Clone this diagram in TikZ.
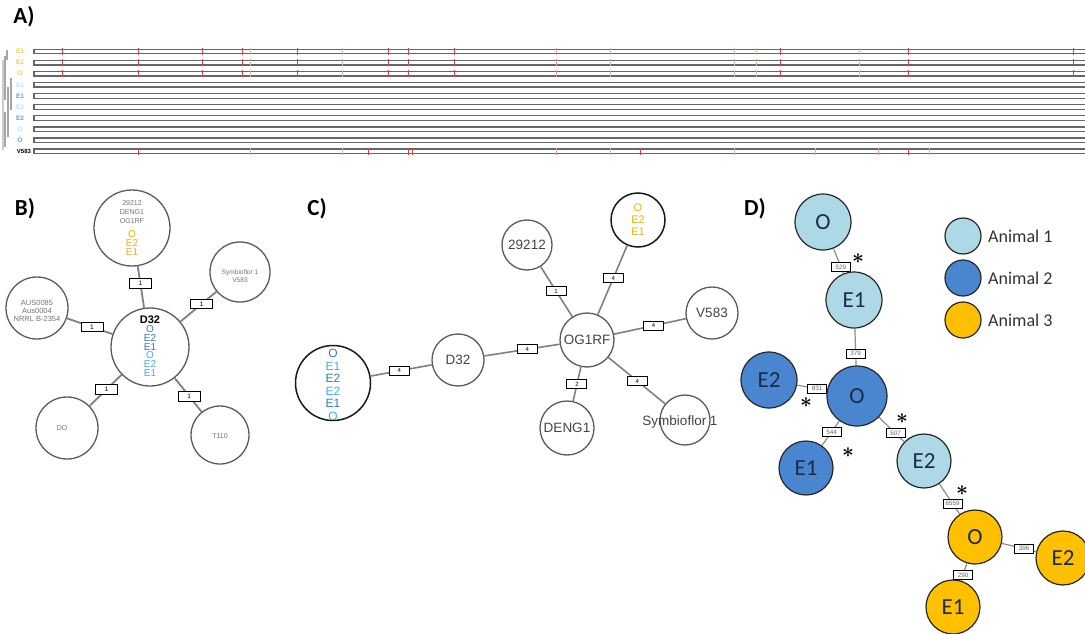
\documentclass[tikz,border=0pt]{standalone}
\usepackage{fontspec}
\setmainfont{Liberation Sans}
\newfontfamily\calfont{Carlito}

\definecolor{yel}{HTML}{F2B10A}
\definecolor{animA}{HTML}{ADD9E6}
\definecolor{animB}{HTML}{4A86CF}
\definecolor{animC}{HTML}{FFC000}
\definecolor{navy}{HTML}{1C2B48}
\definecolor{bluedk}{HTML}{2F7CC6}
\definecolor{bluelt}{HTML}{3DB0E6}
\definecolor{bluepale}{HTML}{9ED3EA}
\definecolor{ringgray}{HTML}{5A5A5A}
\definecolor{edgegray}{HTML}{808080}
\definecolor{txtgray}{HTML}{444444}
\definecolor{tickred}{HTML}{C8464A}
\definecolor{ticklt}{HTML}{E0A0A0}
\definecolor{ticktan}{HTML}{C9BBA5}

\tikzset{
  panel/.style={font=\calfont\bfseries\fontsize{23}{23}\selectfont},
  barline/.style={draw=black!60, line width=1.3pt},
  tickmark/.style={draw=tickred, line width=1pt},
  tickfaint/.style={draw=ticklt, line width=0.9pt},
  tickpale/.style={draw=ticktan, line width=0.9pt},
  treeline/.style={draw=black!35, line width=1.3pt},
  rowlbl/.style={font=\fontsize{6.5}{6.5}\selectfont, inner sep=0pt},
  rowlblb/.style={font=\bfseries\fontsize{6.5}{6.5}\selectfont, inner sep=0pt},
  % panel B
  bnode/.style={circle, draw=ringgray, line width=1.3pt, inner sep=0pt, fill=white},
  bedge/.style={draw=edgegray, line width=1.8pt},
  blbl/.style={draw=black, fill=white, line width=0.9pt, minimum width=22pt,
    minimum height=9.5pt, inner sep=0pt, font=\fontsize{6.5}{6.5}\selectfont},
  btxt/.style={align=center, inner sep=0pt, text=black!55},
  % panel C
  cnode/.style={circle, draw=ringgray, line width=1.3pt, inner sep=0pt, fill=white,
    text=txtgray, font=\fontsize{13.5}{14}\selectfont},
  cedge/.style={draw=edgegray, line width=1.6pt},
  clbl/.style={draw=black, fill=white, line width=0.9pt, minimum width=20pt,
    minimum height=9pt, inner sep=0pt, font=\fontsize{6}{6}\selectfont},
  % panel D
  dnode/.style={circle, draw=black!85, line width=1.2pt, inner sep=0pt,
    text=navy, font=\calfont\fontsize{23}{23}\selectfont},
  dedge/.style={draw=black!45, line width=1.2pt},
  dlbl/.style={draw=black, fill=white, line width=1pt, minimum height=9pt,
    minimum width=19pt, inner xsep=1.5pt, inner ysep=0pt, text=black!60,
    font=\fontsize{6.3}{6.3}\selectfont},
  ast/.style={inner sep=0pt, font=\boldmath\fontsize{21}{21}\selectfont},
  legtxt/.style={anchor=west, inner sep=0pt, text=black!80, font=\calfont\fontsize{18}{18}\selectfont},
}

\begin{document}
\begin{tikzpicture}[x=1pt, y=-1pt]
\path[use as bounding box] (0,0) rectangle (1085,634);
\clip (0,0) rectangle (1085,634);

% ---------------- A) alignment bars ----------------
\node[panel] (la) at (24,17) {A)};

% small clustering tree at the far left
\draw[treeline] (7,50) -- (7,60);
\draw[treeline] (5,56) -- (5,100);
\draw[treeline] (11,78) -- (11,110);
\draw[treeline] (8,87) -- (8,137);
\draw[treeline] (5,112) -- (5,147);
\draw[treeline, black!20] (3,60) -- (3,150);

\foreach \y in {51.5,62.6,73.7,84.8,95.9,107,118.1,129.2,140.3,151.4} {
  \fill[white] (34,\y-2.3) rectangle (1085,\y+2.3);
  \draw[barline] (1085,\y-2.3) -- (34,\y-2.3) -- (34,\y+2.3) -- (1085,\y+2.3);
}
% variant positions in the three animal-3 isolates
\foreach \y in {51.5,62.6,73.7} {
  \foreach \x in {62,138,202,242,297,388,408,454,780,908,1073}
    \draw[tickmark] (\x,\y-3.3) -- (\x,\y+3.3);
  \foreach \x in {556}
    \draw[tickfaint] (\x,\y-3.3) -- (\x,\y+3.3);
  \foreach \x in {250,342,610,734,756,859}
    \draw[tickpale] (\x,\y-3.3) -- (\x,\y+3.3);
}
% variant positions in the reference strain
\foreach \x in {138,368,408,412,640,908}
  \draw[tickmark] (\x,148.1) -- (\x,154.7);
\foreach \x in {556,878}
  \draw[tickfaint] (\x,148.1) -- (\x,154.7);
\foreach \x in {250,342,610,734,815,929}
  \draw[tickpale] (\x,148.1) -- (\x,154.7);

\node[rowlbl, text=yel] (r1) at (20,51.5) {E1};
\node[rowlbl, text=yel] (r2) at (20,62.6) {E2};
\node[rowlbl, text=yel] (r3) at (20,73.7) {O};
\node[rowlbl, text=bluepale] (r4) at (20,84.8) {E1};
\node[rowlblb, text=bluelt] (r5) at (20,95.9) {E1};
\node[rowlbl, text=bluepale] (r6) at (20,107) {E2};
\node[rowlblb, text=bluelt] (r7) at (20,118.1) {E2};
\node[rowlbl, text=bluepale] (r8) at (20,129.2) {O};
\node[rowlblb, text=bluelt] (r9) at (20,140.3) {O};
\node[rowlblb, text=black, font=\bfseries\fontsize{6}{6}\selectfont] (r10) at (24,151.4) {V583};

% ---------------- B) network ----------------
\node[panel] (lb) at (25,209) {B)};

\node[bnode, minimum size=76pt] (bT) at (132,228) {};
\node[bnode, minimum size=78pt] (bD) at (150,347) {};
\node[bnode, minimum size=60pt] (bS) at (240,272) {};
\node[bnode, minimum size=62pt] (bA) at (37,308) {};
\node[bnode, minimum size=62pt] (bO) at (67,428) {};
\node[bnode, minimum size=58pt] (bT1) at (220,435) {};

\draw[bedge] (bT) -- node[blbl, pos=.41] {1} (bD);
\draw[bedge] (bD) -- node[blbl, pos=.59] {1} (bS);
\draw[bedge] (bD) -- node[blbl, pos=.45] {1} (bA);
\draw[bedge] (bD) -- node[blbl, pos=.47] {1} (bO);
\draw[bedge] (bD) -- node[blbl, pos=.54] {1} (bT1);

\node[btxt, font=\fontsize{7}{9}\selectfont] (bTt) at (132,212) {29212\\DENG1\\OG1RF};
\node[btxt, text=yel, font=\fontsize{10}{9.3}\selectfont] (bTy) at (132,243) {O\\E2\\E1};
\node[btxt, text=black, font=\bfseries\fontsize{11}{11}\selectfont] (bDt) at (150,320) {D32};
\node[btxt, font=\fontsize{10}{8.9}\selectfont] (bDb) at (150,351)
  {\textcolor{bluedk}{O}\\\textcolor{bluedk}{E2}\\\textcolor{bluedk}{E1}\\
   \textcolor{bluelt}{O}\\\textcolor{bluelt}{E2}\\\textcolor{bluelt}{E1}};
\node[btxt, font=\fontsize{6.6}{7.5}\selectfont] (bSt) at (240,276) {Symbioflor 1\\V583};
\node[btxt, font=\fontsize{7.5}{7.7}\selectfont] (bAt) at (37,311) {AUS0085\\Aus0004\\NRRL B-2354};
\node[btxt, font=\fontsize{7}{7}\selectfont] (bOt) at (62,428) {DO};
\node[btxt, font=\fontsize{7}{7}\selectfont] (bT1t) at (220,436) {T110};

% ---------------- C) network ----------------
\node[panel] (lc) at (317,209) {C)};

\node[cnode, minimum size=54pt] (cOG) at (587,340) {OG1RF};
\node[cnode, minimum size=50pt] (c29) at (527,245) {29212};
\node[cnode, minimum size=54pt, draw=black!90, line width=1.5pt] (cY) at (638,220) {};
\node[cnode, minimum size=52pt] (cV) at (712,313) {V583};
\node[cnode, minimum size=52pt] (cD) at (458,360) {D32};
\node[cnode, minimum size=75pt, draw=black!90, line width=1.5pt] (cB) at (333,383) {};
\node[cnode, minimum size=54pt] (cE) at (567,428) {DENG1};
\node[cnode, minimum size=50pt] (cS) at (685,420) {};

\draw[cedge] (cOG) -- node[clbl, pos=.51] {1} (c29);
\draw[cedge] (cOG) -- node[clbl, pos=.53] {4} (cY);
\draw[cedge] (cOG) -- node[clbl, pos=.55] {4} (cV);
\draw[cedge] (cOG) -- node[clbl, pos=.43] {4} (cD);
\draw[cedge] (cOG) -- node[clbl, pos=.51] {4} (cS);
\draw[cedge] (cOG) -- node[clbl, pos=.51] {2} (cE);
\draw[cedge] (cD) -- node[clbl, pos=.53] {4} (cB);

\node[btxt, text=yel, font=\fontsize{11}{12}\selectfont] (cYt) at (638,220) {O\\E2\\E1};
\node[btxt, font=\fontsize{12}{12.5}\selectfont] (cBt) at (333,385)
  {\textcolor{bluedk}{O}\\\textcolor{bluelt}{E1}\\\textcolor{bluedk}{E2}\\
   \textcolor{bluelt}{E2}\\\textcolor{bluedk}{E1}\\\textcolor{bluelt}{O}};
\node[btxt, text=txtgray, font=\fontsize{13.5}{14}\selectfont] (cSt) at (680,422) {Symbioflor 1};

% ---------------- D) network ----------------
\node[panel] (ld) at (755,209) {D)};

\node[dnode, minimum size=56pt, fill=animA] (dO1) at (823,222) {O};
\node[dnode, minimum size=56pt, fill=animA] (dE1a) at (854,300) {E1};
\node[dnode, minimum size=60pt, fill=animB] (dO2) at (857,396) {O};
\node[dnode, minimum size=56pt, fill=animB] (dE2b) at (769,380) {E2};
\node[dnode, minimum size=54pt, fill=animB] (dE1b) at (806,468) {E1};
\node[dnode, minimum size=54pt, fill=animA] (dE2a) at (924,461) {E2};
\node[dnode, minimum size=54pt, fill=animC] (dO3) at (975,537) {O};
\node[dnode, minimum size=54pt, fill=animC] (dE2c) at (1063,558) {E2};
\node[dnode, minimum size=54pt, fill=animC] (dE1c) at (953,607) {E1};

\draw[dedge] (dO1) -- node[dlbl, pos=.75] {529} (dE1a);
\draw[dedge] (dE1a) -- node[dlbl, pos=.68] {379} (dO2);
\draw[dedge] (dO2) -- node[dlbl, pos=.33] {831} (dE2b);
\draw[dedge] (dO2) -- node[dlbl, pos=.45] {544} (dE1b);
\draw[dedge] (dO2) -- node[dlbl, pos=.66] {507} (dE2a);
\draw[dedge] (dE2a) -- node[dlbl, pos=.66] {6559} (dO3);
\draw[dedge] (dO3) -- node[dlbl, pos=.65] {396} (dE2c);
\draw[dedge] (dO3) -- node[dlbl, pos=.67] {290} (dE1c);

% edges marked as significant
\node[ast] (a1) at (858,259) {$\ast$};
\node[ast] (a2) at (806,403) {$\ast$};
\node[ast] (a3) at (848,453) {$\ast$};
\node[ast] (a4) at (902,419) {$\ast$};
\node[ast] (a5) at (962,491) {$\ast$};

% legend
\node[dnode, minimum size=36pt, fill=animA] (k1) at (963,236) {};
\node[dnode, minimum size=36pt, fill=animB] (k2) at (963,278) {};
\node[dnode, minimum size=36pt, fill=animC] (k3) at (963,320) {};
\node[legtxt] (k1t) at (988,236) {Animal 1};
\node[legtxt] (k2t) at (988,278) {Animal 2};
\node[legtxt] (k3t) at (988,320) {Animal 3};
\end{tikzpicture}
\end{document}
